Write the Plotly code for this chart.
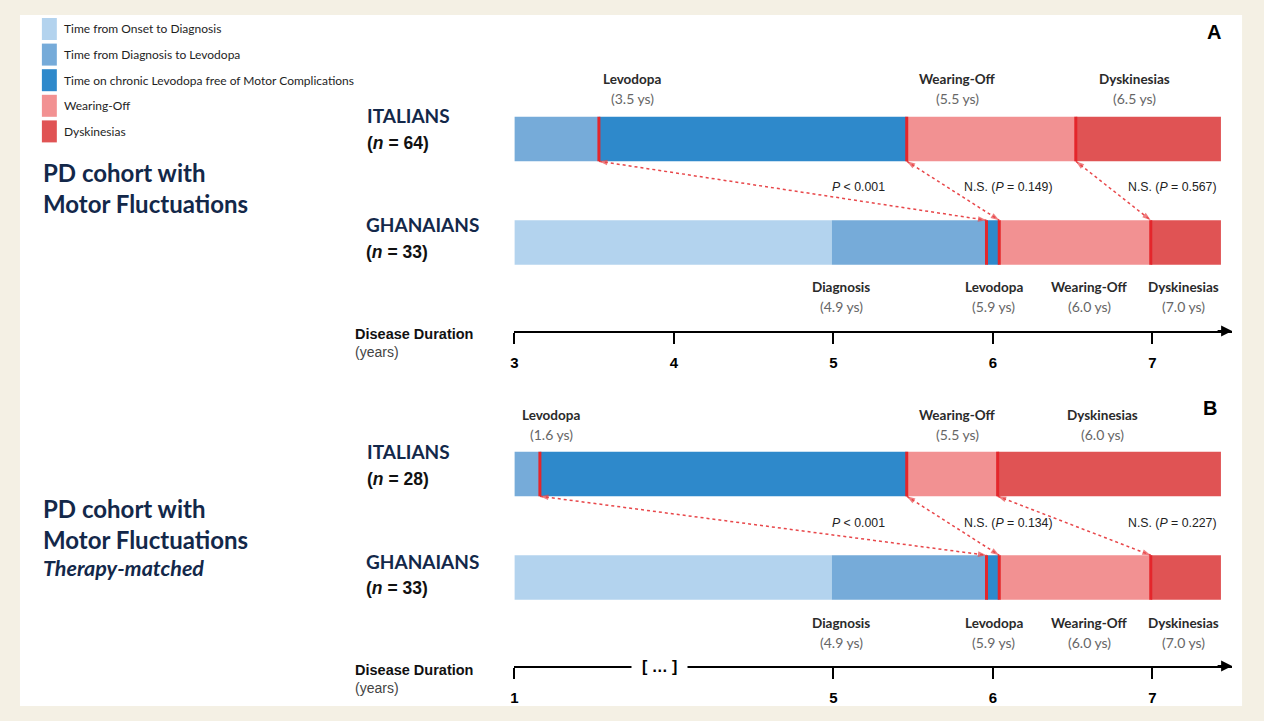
import plotly.graph_objects as go

W, H = 1264, 721

# ---------------- data ----------------
series = ["Time from Onset to Diagnosis",
          "Time from Diagnosis to Levodopa",
          "Time on chronic Levodopa free of Motor Complications",
          "Wearing-Off",
          "Dyskinesias"]
colors = ["#b3d3ee", "#76abd9", "#2e89cb", "#f29192", "#e05354"]

# phase boundaries on the disease-duration axis: start of each of the 5 phases, then end of bar
ita_a = [3.0, 3.0, 3.53, 5.46, 6.52, 7.43]
gha_a = [3.0, 4.99, 5.96, 6.04, 6.99, 7.43]
ita_b = [3.0, 3.0, 3.16, 5.46, 6.03, 7.43]   # panel B axis is broken ("1 [...] 5")
gha_b = [3.0, 4.99, 5.96, 6.04, 6.99, 7.43]

ticks_a_vals = [3, 4, 5, 6, 7]
ticks_a_text = ["3", "4", "5", "6", "7"]
ticks_b_vals = [3, 5, 6, 7]
ticks_b_text = ["1", "5", "6", "7"]

ita_events = ["Levodopa", "Wearing-Off", "Dyskinesias"]
ita_a_years = ["3.5", "5.5", "6.5"]
ita_b_years = ["1.6", "5.5", "6.0"]
gha_events = ["Diagnosis", "Levodopa", "Wearing-Off", "Dyskinesias"]
gha_years = ["4.9", "5.9", "6.0", "7.0"]
p_a = ["<i>P</i> < 0.001", "N.S. (<i>P</i> = 0.149)", "N.S. (<i>P</i> = 0.567)"]
p_b = ["<i>P</i> < 0.001", "N.S. (<i>P</i> = 0.134)", "N.S. (<i>P</i> = 0.227)"]
n_a = [64, 33]
n_b = [28, 33]

# ---------------- styling / layout positions ----------------
CAL = "Lato, 'Open Sans', sans-serif"
ARIAL = "'Liberation Sans', Arial, sans-serif"
NARROW = "'Liberation Sans Narrow', 'Liberation Sans', Arial, sans-serif"
NAVY = "#13284a"
RED = "#e4262b"
BW = 0.43  # bar thickness (row units)

fig = go.Figure()


def px(x):
    return x / W


def py(y):
    return 1 - y / H


def txt(x, y, text, size, color="#222", family=CAL, bold=False, italic=False, xanchor="center"):
    fig.add_annotation(x=px(x), y=py(y), xref="paper", yref="paper", text=text,
                       showarrow=False, xanchor=xanchor, yanchor="middle", borderpad=0,
                       font=dict(size=size, color=color, family=family,
                                 weight="bold" if bold else "normal",
                                 style="italic" if italic else "normal"))


panels = [
    dict(xa="x", ya="y", ita=ita_a, gha=gha_a),
    dict(xa="x2", ya="y2", ita=ita_b, gha=gha_b),
]

for pnl in panels:
    for k, name in enumerate(series):
        fig.add_trace(go.Bar(
            orientation="h", y=[0, 1],
            base=[pnl["gha"][k], pnl["ita"][k]],
            x=[pnl["gha"][k + 1] - pnl["gha"][k], pnl["ita"][k + 1] - pnl["ita"][k]],
            width=BW, marker=dict(color=colors[k], line=dict(width=0)),
            name=name, showlegend=False, hoverinfo="skip",
            xaxis=pnl["xa"], yaxis=pnl["ya"]))
    # red event lines
    for idx in (2, 3, 4):
        for row, b in ((1, pnl["ita"]), (0, pnl["gha"])):
            fig.add_shape(type="line", xref=pnl["xa"], yref=pnl["ya"],
                          x0=b[idx], x1=b[idx], y0=row - BW / 2, y1=row + BW / 2,
                          line=dict(color=RED, width=3), layer="above")
    # double-headed dotted arrows between matching events
    for idx in (2, 3, 4):
        xa0, ya0 = pnl["ita"][idx], 1 - BW / 2
        xb0, yb0 = pnl["gha"][idx], BW / 2
        fig.add_trace(go.Scatter(x=[xa0, xb0], y=[ya0, yb0], mode="lines",
                                 line=dict(color="#e8474a", width=1.5, dash="dot"),
                                 showlegend=False, hoverinfo="skip",
                                 xaxis=pnl["xa"], yaxis=pnl["ya"]))
        fig.add_trace(go.Scatter(x=[xa0, xb0, xa0], y=[ya0, yb0, ya0], mode="markers",
                                 marker=dict(symbol="arrow", angleref="previous",
                                             size=[0, 9, 9], color="#e8474a",
                                             line=dict(width=0)),
                                 showlegend=False, hoverinfo="skip",
                                 xaxis=pnl["xa"], yaxis=pnl["ya"]))

axis_common = dict(range=[3, 7.5], showgrid=False, zeroline=False, showline=True,
                   linecolor="black", linewidth=2, ticks="outside", ticklen=11,
                   tickwidth=2, tickcolor="black", ticklabelstandoff=6,
                   tickfont=dict(family=ARIAL, size=15, color="black", weight="bold"),
                   domain=[512 / W, 1232 / W], fixedrange=True)
yrange = [-0.855, 1.763]
fig.update_layout(
    width=W, height=H, autosize=False,
    margin=dict(l=0, r=0, t=0, b=0),
    paper_bgcolor="#f4f0e4", plot_bgcolor="rgba(0,0,0,0)",
    barmode="overlay", showlegend=False,
    xaxis=dict(**axis_common, anchor="y", tickvals=ticks_a_vals, ticktext=ticks_a_text),
    yaxis=dict(range=yrange, visible=False, domain=[py(331), py(60)], anchor="x", fixedrange=True),
    xaxis2=dict(**axis_common, anchor="y2", tickvals=ticks_b_vals, ticktext=ticks_b_text),
    yaxis2=dict(range=yrange, visible=False, domain=[py(666), py(395)], anchor="x2", fixedrange=True),
)

# white panel
fig.add_shape(type="rect", xref="paper", yref="paper", x0=px(16), x1=px(1242),
              y0=py(706), y1=py(15), fillcolor="white", line=dict(width=0), layer="below")

# axis arrow heads
for xr, yr in (("x", "y domain"), ("x2", "y2 domain")):
    fig.add_annotation(x=7.5, y=0, xref=xr, yref=yr, ax=-16, ay=0, text="",
                       showarrow=True, arrowhead=2, arrowsize=1.1, arrowwidth=2,
                       arrowcolor="black")
# axis break
fig.add_annotation(x=3.9125, y=0, xref="x2", yref="y2 domain", showarrow=False,
                   xanchor="center", yanchor="middle",
                   text="\u00a0\u00a0[ \u2026 ]\u00a0\u00a0", bgcolor="white", borderpad=1,
                   font=dict(family=ARIAL, size=16, color="black", weight="bold"))

# legend
for k, name in enumerate(series):
    y0 = 18 + 25.6 * k
    fig.add_shape(type="rect", xref="paper", yref="paper", x0=px(38), x1=px(53),
                  y0=py(y0 + 22), y1=py(y0), fillcolor=colors[k], line=dict(width=0))
    txt(59, y0 + 11, name, 12, "#1e1e1e", CAL, xanchor="left")

# panel letters
txt(1214, 32, "A", 20, "black", ARIAL, bold=True)
txt(1210, 408, "B", 20, "black", ARIAL, bold=True)

# left titles
txt(38, 172, "PD cohort with", 24, NAVY, CAL, bold=True, xanchor="left")
txt(38, 203, "Motor Fluctuations", 24, NAVY, CAL, bold=True, xanchor="left")
txt(38, 508, "PD cohort with", 24, NAVY, CAL, bold=True, xanchor="left")
txt(38, 539, "Motor Fluctuations", 24, NAVY, CAL, bold=True, xanchor="left")
txt(38, 568, "Therapy-matched", 21.5, NAVY, CAL, bold=True, italic=True, xanchor="left")

# cohort labels
for dy, ns in ((0, n_a), (336, n_b)):
    txt(363, 115 + dy, "ITALIANS", 19, NAVY, CAL, bold=True, xanchor="left")
    txt(363, 143 + dy, f"(<i>n</i> = {ns[0]})", 17.5, "#111", ARIAL, bold=True, xanchor="left")
    txt(362, 225 + dy, "GHANAIANS", 19, NAVY, CAL, bold=True, xanchor="left")
    txt(362, 252 + dy, f"(<i>n</i> = {ns[1]})", 17.5, "#111", ARIAL, bold=True, xanchor="left")

# axis titles
for dy in (0, 336):
    txt(351, 334 + dy, "Disease Duration", 14.5, "#111", ARIAL, bold=True, xanchor="left")
    txt(351, 352 + dy, "(years)", 14, "#444", ARIAL, xanchor="left")

# event labels
ita_a_lx = [630, 957, 1134]
ita_b_lx = [549, 957, 1102]
gha_lx = [840, 993, 1089, 1183]
p_lx = [857, 1008, 1172]
for dy, ita_lx, ita_years, pv in ((0, ita_a_lx, ita_a_years, p_a), (336, ita_b_lx, ita_b_years, p_b)):
    for lx, ev, yr in zip(ita_lx, ita_events, ita_years):
        txt(lx, 79 + dy, ev, 13.5, "#2a2a2a", CAL, bold=True)
        txt(lx, 99 + dy, f"({yr} ys)", 14, "#666", CAL)
    for lx, ev, yr in zip(gha_lx, gha_events, gha_years):
        txt(lx, 287 + dy, ev, 13.5, "#2a2a2a", CAL, bold=True)
        txt(lx, 306 + dy, f"({yr} ys)", 14, "#666", CAL)
    for lx, t in zip(p_lx, pv):
        txt(lx, 187 + dy, t, 12.3, "#222", NARROW)

fig.write_html("out.html", post_script="document.body.style.margin='0';")
